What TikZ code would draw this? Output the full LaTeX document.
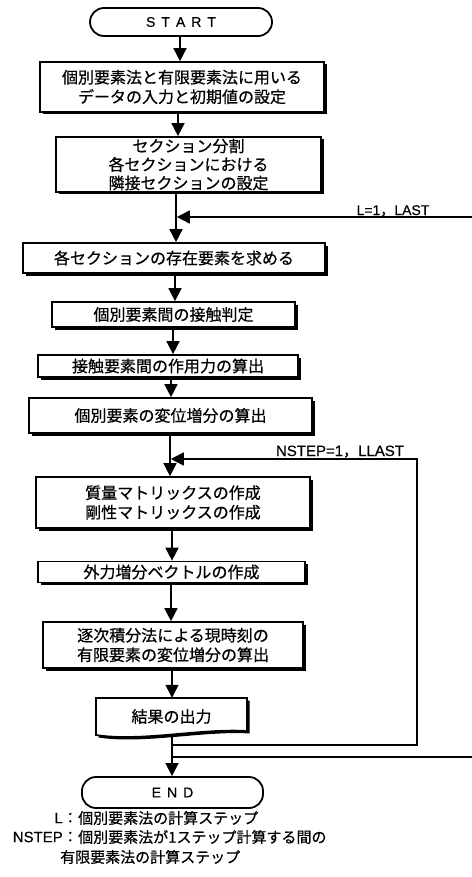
\documentclass[tikz,border=0pt]{standalone}
\usepackage{fontspec}
\setmainfont{Noto Sans CJK JP}[FakeBold=0.6]
\newfontfamily\lat{Liberation Sans}[FakeBold=0.4]
\newfontfamily\cjkplain{Noto Sans CJK JP}[FakeBold=0.6]
\usetikzlibrary{arrows.meta,shadows}
\begin{document}
\begin{tikzpicture}[x=1pt,y=-1pt]
\tikzset{
 box/.style={draw, line width=1.7pt, fill=white, inner sep=0pt, align=center,
   font=\fontsize{16}{19.5}\selectfont,
   drop shadow={shadow xshift=2.5pt, shadow yshift=-2.5pt, opacity=1, fill=black}},
 term/.style={draw, line width=1.8pt, rounded corners=14pt, inner sep=0pt,
   font=\lat\fontsize{14}{16}\selectfont},
 arr/.style={line width=1.6pt, -{Triangle[width=13pt,length=13pt]}},
 lbl/.style={inner sep=0pt, font=\fontsize{15}{18}\selectfont},
}
\useasboundingbox (0,0) rectangle (471,877);
\fill[white] (0,0) rectangle (471,877);

% terminators
\node[term, minimum width=182pt, minimum height=28pt] (start) at (181,22)
  {S\hspace{6pt}T\hspace{6pt}A\hspace{6pt}R\hspace{6pt}T};
\node[term, minimum width=181pt, minimum height=31pt] (end) at (172.5,792.5)
  {E\hspace{6pt}N\hspace{6pt}D};

% process boxes
\node[box, minimum width=284pt, minimum height=50pt] (b1) at (182,87)
  {個別要素法と有限要素法に用いる\\データの入力と初期値の設定};
\node[box, minimum width=265pt, minimum height=55pt, font=\fontsize{16}{18.5}\selectfont] (b2) at (188.5,164.5)
  {セクション分割\\各セクションにおける\\隣接セクションの設定};
\node[box, minimum width=302pt, minimum height=30pt] (b3) at (174,258)
  {各セクションの存在要素を求める};
\node[box, minimum width=243pt, minimum height=25pt] (b4) at (173.5,314.5)
  {個別要素間の接触判定};
\node[box, minimum width=260pt, minimum height=22pt] (b5) at (168,366)
  {接触要素間の作用力の算出};
\node[box, minimum width=283pt, minimum height=35pt] (b6) at (170.5,415.5)
  {個別要素の変位増分の算出};
\node[box, minimum width=274pt, minimum height=51pt] (b7) at (173,502.5)
  {質量マトリックスの作成\\剛性マトリックスの作成};
\node[box, minimum width=267pt, minimum height=21pt] (b8) at (171.5,572)
  {外力増分ベクトルの作成};
\node[box, minimum width=260pt, minimum height=46pt] (b9) at (173,645)
  {逐次積分法による現時刻の\\有限要素の変位増分の算出};

% document shape (output)
\begin{scope}[shift={(2.5,2.5)}]
\fill[black] (96,698) -- (247,698) -- (247,731) .. controls (202,728) and (141,742) .. (96,735) -- cycle;
\end{scope}
\filldraw[fill=white, line width=1.7pt] (96,698) -- (247,698) -- (247,731) .. controls (202,728) and (141,742) .. (96,735) -- cycle;
\node[inner sep=0pt, minimum width=151pt, minimum height=37pt, font=\fontsize{16}{19.5}\selectfont] (b10) at (171.5,716.5) {結果の出力};

% main-line x positions
\coordinate (m1) at (180,0);
\coordinate (m2) at (178,0);
\coordinate (m3) at (176,0);
\coordinate (m4) at (175,0);
\coordinate (m5) at (173,0);
\coordinate (m6) at (171,0);
\coordinate (m7) at (170,0);
\coordinate (m8) at (172,0);
\coordinate (m9) at (171,0);
\coordinate (m10) at (172,0);
\coordinate (m11) at (172,0);

\draw[arr] (start.south -| m1) -- (b1.north -| m1);
\draw[arr] (b1.south -| m2) -- (b2.north -| m2);
\draw[arr] (b2.south -| m3) -- (b3.north -| m3);
\draw[arr] (b3.south -| m4) -- (b4.north -| m4);
\draw[arr] (b4.south -| m5) -- (b5.north -| m5);
\draw[arr] (b5.south -| m6) -- (b6.north -| m6);
\draw[arr] (b6.south -| m7) -- (b7.north -| m7);
\draw[arr] (b7.south -| m8) -- (b8.north -| m8);
\draw[arr] (b8.south -| m9) -- (b9.north -| m9);
\draw[arr] (b9.south -| m10) -- (b10.north -| m10);
\draw[arr] (b10.south -| m11) -- (end.north -| m11);

% loop L
\coordinate (Lbot) at (172,757);
\coordinate (Lright) at (476,757);
\coordinate (Ltip) at (176.8,217);
\draw[arr] (Lbot) -- (Lright) |- (Ltip);
\node[lbl, anchor=base, font=\lat\fontsize{14}{16}\selectfont] (Llab) at (393,215)
  {L=1{\cjkplain ，}LAST};

% loop NSTEP
\coordinate (Nbot) at (172,745);
\coordinate (Nright) at (417,745);
\coordinate (Ntip) at (170.8,459);
\draw[arr] (Nbot) -- (Nright) |- (Ntip);
\node[lbl, anchor=base, font=\lat\fontsize{15}{18}\selectfont] (Nlab) at (340,456)
  {NSTEP=1{\cjkplain ，}LLAST};

% legend
\node[lbl, anchor=east] (k1) at (78,818) {{\lat L}：};
\node[lbl, anchor=west] (t1) at (78,818) {個別要素法の計算ステップ};
\node[lbl, anchor=east] (k2) at (78,837) {{\lat NSTEP}：};
\node[lbl, anchor=west] (t2) at (78,837) {個別要素法が1ステップ計算する間の};
\node[lbl, anchor=west] (t3) at (60,857) {有限要素法の計算ステップ};
\end{tikzpicture}
\end{document}
